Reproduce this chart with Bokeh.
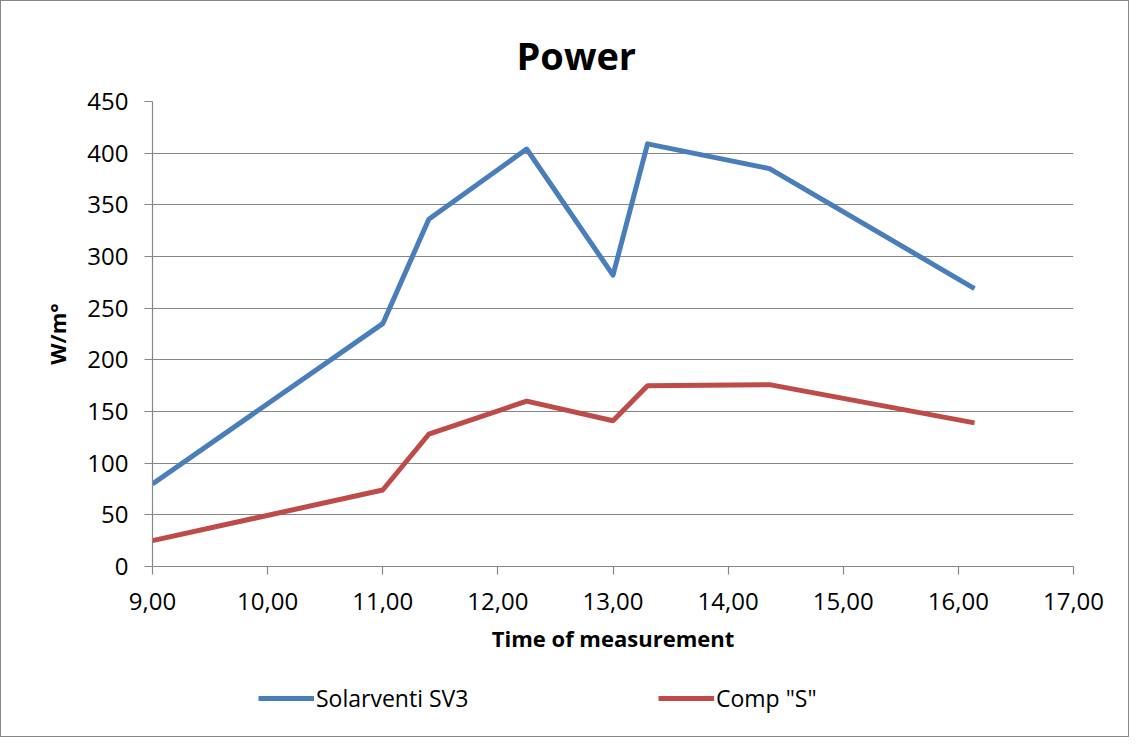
from bokeh.plotting import figure
from bokeh.layouts import column
from bokeh.models import (Range1d, FixedTicker, CustomJSTickFormatter, Legend, LegendItem)
from bokeh.embed import file_html
from bokeh.resources import INLINE

# ---- data ----
time_sv3 = [9.00, 11.00, 11.40, 12.25, 13.00, 13.30, 14.36, 16.14]
power_sv3 = [80, 235, 336, 404, 282, 409, 385, 269]
time_comp = [9.00, 11.00, 11.40, 12.25, 13.00, 13.30, 14.36, 16.14]
power_comp = [25, 74, 128, 160, 141, 175, 176, 139]
series_names = ["Solarventi SV3", 'Comp "S"']
x_ticks = [9, 10, 11, 12, 13, 14, 15, 16, 17]
y_ticks = [0, 50, 100, 150, 200, 250, 300, 350, 400, 450]
title_text = "Power"
x_title = "Time of measurement"
y_title = "W/m°"

FONT = "Open Sans"
GRAY = "#868686"
BLUE = "#4A7EBB"
RED = "#BE4B48"
LW = 5

# ---- main chart ----
p = figure(frame_width=921, frame_height=465, output_backend="svg", toolbar_location=None,
           x_range=Range1d(9, 17), y_range=Range1d(0, 450),
           min_border_left=151, min_border_top=100, min_border_right=55, min_border_bottom=110)
p.outline_line_color = None
p.background_fill_color = "white"
p.border_fill_color = "white"

p.line(time_sv3, power_sv3, line_color=BLUE, line_width=LW, line_join="round")
p.line(time_comp, power_comp, line_color=RED, line_width=LW, line_join="round")

p.xgrid.visible = False
p.ygrid.grid_line_color = GRAY
p.ygrid.grid_line_width = 1.2
p.ygrid.ticker = FixedTicker(ticks=y_ticks)

for ax in (p.xaxis[0], p.yaxis[0]):
    ax.axis_line_color = GRAY
    ax.axis_line_width = 1.2
    ax.major_tick_line_color = GRAY
    ax.major_tick_line_width = 1.2
    ax.major_tick_out = 8
    ax.major_tick_in = 0
    ax.minor_tick_line_color = None
    ax.major_label_text_font = FONT
    ax.major_label_text_font_size = "24px"
    ax.major_label_text_color = "black"
    ax.axis_label_text_font = FONT
    ax.axis_label_text_font_size = "22px"
    ax.axis_label_text_font_style = "bold"
    ax.axis_label_text_color = "black"

p.xaxis.ticker = FixedTicker(ticks=x_ticks)
p.xaxis.formatter = CustomJSTickFormatter(code="return tick.toFixed(2).replace('.', ',');")
p.xaxis.axis_label = x_title
p.xaxis.major_label_standoff = 18
p.xaxis.axis_label_standoff = 10

p.yaxis.ticker = FixedTicker(ticks=y_ticks)
p.yaxis.axis_label = y_title
p.yaxis.major_label_standoff = 16
p.yaxis.axis_label_standoff = 12

p.title.text = title_text
p.title.text_font = FONT
p.title.text_font_size = "38px"
p.title.text_font_style = "bold"
p.title.text_color = "black"
p.title.align = "left"
p.title.offset = 364
p.title.standoff = 42

# ---- legend strip (same series, drawn out of view; only the legend shows) ----
leg = figure(frame_width=1127, frame_height=60, output_backend="svg", toolbar_location=None,
             x_range=Range1d(100, 101), y_range=Range1d(1000, 1001),
             x_axis_location=None, y_axis_location=None,
             min_border_left=0, min_border_right=0, min_border_top=0, min_border_bottom=0)
leg.outline_line_color = None
leg.xgrid.visible = False
leg.ygrid.visible = False
leg.background_fill_color = "white"
leg.border_fill_color = "white"
l1 = leg.line(time_sv3, power_sv3, line_color=BLUE, line_width=LW)
l2 = leg.line(time_comp, power_comp, line_color=RED, line_width=LW)

legend = Legend(items=[LegendItem(label=series_names[0], renderers=[l1]),
                       LegendItem(label=series_names[1], renderers=[l2])],
                orientation="horizontal", location=(257, 22),
                glyph_width=56, glyph_height=22, label_standoff=2, label_width=330,
                spacing=12, padding=0, margin=0,
                label_text_font=FONT, label_text_font_size="23px", label_text_color="black",
                border_line_color=None, background_fill_alpha=0)
leg.add_layout(legend, "center")

layout = column(p, leg, spacing=0, styles={"border": "1px solid #878787"})

open("out.html", "w").write(file_html(layout, INLINE))
